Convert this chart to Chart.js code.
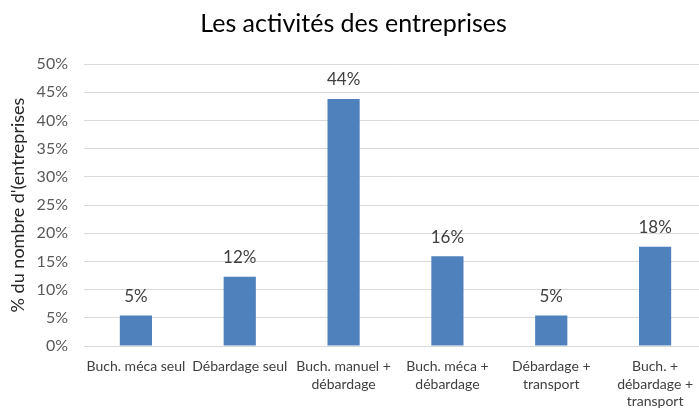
<!DOCTYPE html>
<html>
<head>
<meta charset="utf-8">
<script src="https://cdn.jsdelivr.net/npm/chart.js@4/dist/chart.umd.min.js"></script>
<style>
  html, body { margin: 0; padding: 0; background: #fff; overflow: hidden; }
  #wrap { width: 710px; height: 409px; }
</style>
</head>
<body>
<div id="wrap"><canvas id="chart" width="710" height="409"></canvas></div>
<script>
// --- data ---
const categories = [
  ['Buch. méca seul'],
  ['Débardage seul'],
  ['Buch. manuel +', 'débardage'],
  ['Buch. méca +', 'débardage'],
  ['Débardage +', 'transport'],
  ['Buch. +', 'débardage +', 'transport']
];
const shares = [5.4, 12.3, 43.8, 15.9, 5.4, 17.6];
const yTicks = [0, 5, 10, 15, 20, 25, 30, 35, 40, 45, 50];

const FONT = "Lato, 'Open Sans', sans-serif";

// value labels above the bars (no datalabels plugin available offline)
const barLabels = {
  id: 'barLabels',
  afterDatasetsDraw(chart) {
    const ctx = chart.ctx;
    const meta = chart.getDatasetMeta(0);
    ctx.save();
    ctx.font = '17px ' + FONT;
    ctx.fillStyle = '#404040';
    ctx.textAlign = 'center';
    ctx.textBaseline = 'middle';
    meta.data.forEach((bar, i) => {
      ctx.fillText(Math.round(shares[i]) + '%', bar.x, bar.y - 19);
    });
    ctx.restore();
  }
};

new Chart(document.getElementById('chart'), {
  type: 'bar',
  data: {
    labels: categories,
    datasets: [{
      data: shares,
      backgroundColor: '#4f81bd',
      borderWidth: 0,
      barPercentage: 0.31,
      categoryPercentage: 1
    }]
  },
  options: {
    responsive: false,
    animation: false,
    layout: { padding: { left: 0, right: 3, top: 0, bottom: 0 } },
    plugins: {
      legend: { display: false },
      tooltip: { enabled: false },
      title: {
        display: true,
        text: 'Les activités des entreprises',
        color: '#000',
        font: { family: FONT, size: 25, weight: 'normal' },
        padding: { top: 9, bottom: 25 }
      }
    },
    scales: {
      x: {
        grid: { display: false, drawTicks: false },
        border: { color: '#d9d9d9' },
        ticks: {
          color: '#404040',
          font: { family: FONT, size: 14, lineHeight: 1.25 },
          maxRotation: 0,
          autoSkip: false,
          padding: 12
        },
        afterFit: s => { s.height = 63; }
      },
      y: {
        min: 0,
        max: 50,
        afterBuildTicks: s => { s.ticks = yTicks.map(v => ({ value: v })); },
        grid: { color: '#d9d9d9', drawTicks: false },
        border: { display: false },
        ticks: {
          color: '#595959',
          font: { family: FONT, size: 16 },
          padding: 16,
          callback: v => v + '%'
        },
        title: {
          display: true,
          text: "% du nombre d'(entreprises",
          color: '#262626',
          font: { family: FONT, size: 18 },
          padding: { top: 7, bottom: 0 }
        },
        afterFit: s => { s.width = 84; }
      }
    }
  },
  plugins: [barLabels]
});
</script>
</body>
</html>
